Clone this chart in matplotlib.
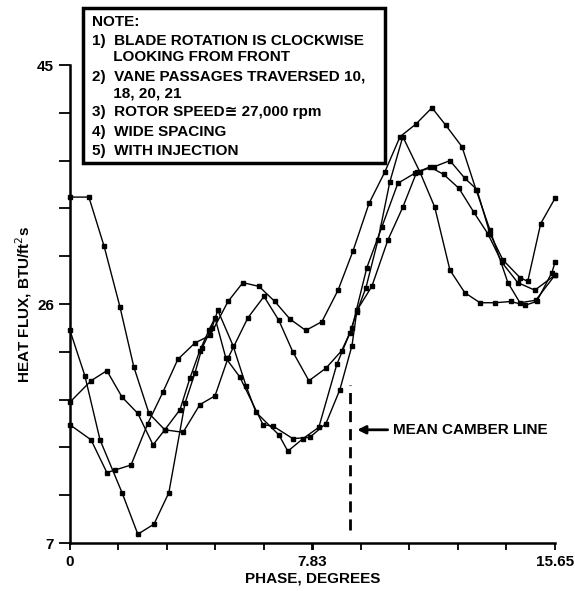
import numpy as np
import matplotlib
matplotlib.use('Agg')
import matplotlib.pyplot as plt
from matplotlib.patches import Rectangle

plt.rcParams['font.family'] = ['Liberation Sans', 'DejaVu Sans']

# phase (degrees) and heat flux (BTU/ft^2 s), one pair per traverse
phaseA = [0.00, 0.61, 1.10, 1.61, 2.06, 2.55, 3.06, 3.65, 4.19, 4.68, 5.10, 5.74, 6.26,
          6.74, 7.19, 7.71, 8.26, 8.77, 9.03, 9.26, 9.55, 9.94, 10.32, 10.74, 11.29,
          11.77, 12.26, 12.74, 13.23, 13.71, 14.23, 14.68, 15.06, 15.55, 15.65]
fluxA = [34.5, 34.5, 30.6, 25.8, 21.0, 17.3, 16.0, 15.8, 18.0, 18.7, 21.7, 24.9, 26.6,
         24.7, 22.2, 19.9, 20.9, 22.3, 23.7, 25.4, 27.3, 31.1, 35.7, 39.3, 36.5,
         33.7, 28.7, 26.9, 26.1, 26.1, 26.2, 25.9, 26.2, 28.5, 29.3]

phaseB = [0.00, 0.68, 1.19, 1.45, 1.97, 2.51, 3.00, 3.48, 4.03, 4.52, 5.10, 5.58, 6.10,
          6.61, 7.10, 7.61, 8.13, 8.65, 9.13, 9.65, 10.16, 10.65, 11.16, 11.68, 12.13,
          12.65, 13.10, 13.55, 14.13, 14.52, 15.03, 15.65]
fluxB = [16.4, 15.2, 12.6, 12.8, 13.2, 16.5, 19.0, 21.6, 22.9, 23.5, 26.2, 27.7, 27.4,
         26.2, 24.8, 23.9, 24.6, 27.1, 30.2, 34.0, 36.5, 39.3, 40.3, 41.6, 40.2,
         38.5, 35.1, 31.9, 27.7, 26.1, 26.3, 28.3]

phaseC = [0.00, 0.48, 0.97, 1.68, 2.19, 2.71, 3.19, 3.71, 4.03, 4.26, 4.58, 4.77, 5.26,
          5.68, 6.00, 6.74, 7.03, 7.52, 8.03, 8.61, 9.10, 9.58, 10.06, 10.58, 11.13,
          11.61, 12.06, 12.55, 13.03, 13.48, 13.94, 14.45, 15.00, 15.65]
fluxC = [23.9, 20.3, 15.2, 11.0, 7.7, 8.5, 11.0, 18.1, 20.5, 22.5, 24.1, 25.5, 22.7,
         19.5, 17.4, 15.6, 14.3, 15.3, 16.2, 21.2, 24.1, 28.9, 32.1, 35.6, 36.4,
         36.9, 36.3, 35.2, 33.3, 31.6, 29.3, 27.7, 27.1, 28.3]

phaseD = [0.00, 0.68, 1.19, 1.68, 2.19, 2.68, 3.06, 3.55, 3.87, 4.19, 4.48, 4.68, 5.03,
          5.48, 6.23, 6.55, 7.19, 7.74, 8.26, 8.71, 9.10, 9.26, 9.74, 10.26, 10.74,
          11.19, 11.74, 12.26, 12.74, 13.13, 13.55, 13.97, 14.52, 14.77, 15.19, 15.65]
fluxD = [18.2, 19.9, 20.7, 18.6, 17.3, 14.8, 16.0, 17.6, 20.1, 22.3, 23.9, 24.9, 21.7,
         20.2, 16.4, 16.3, 15.3, 15.4, 16.5, 19.2, 22.7, 25.5, 27.4, 31.1, 33.7,
         36.5, 36.9, 37.4, 36.0, 35.1, 31.6, 29.5, 28.1, 27.8, 32.4, 34.4]

camberPhase = 9.03
notes = ['NOTE:',
         '1)  BLADE ROTATION IS CLOCKWISE',
         '     LOOKING FROM FRONT',
         '2)  VANE PASSAGES TRAVERSED 10,',
         '     18, 20, 21',
         '3)  ROTOR SPEED\u2245 27,000 rpm',
         '4)  WIDE SPACING',
         '5)  WITH INJECTION']

fig = plt.figure(figsize=(5.75, 5.91), dpi=100)
ax = fig.add_axes([0.1217, 0.0812, 0.8435, 0.8088])

for px, fy in [(phaseA, fluxA), (phaseB, fluxB), (phaseC, fluxC), (phaseD, fluxD)]:
    ax.plot(px, fy, color='black', lw=1.0, marker='s', ms=2.7, clip_on=False)

ax.set_xlim(0, 15.65)
ax.set_ylim(7, 45)
ax.spines['top'].set_visible(False)
ax.spines['right'].set_visible(False)
ax.spines['left'].set_linewidth(1.8)
ax.spines['bottom'].set_linewidth(1.8)

ax.set_xticks(np.linspace(0, 15.65, 11), minor=True)
ax.set_xticks([0, 7.83, 15.65])
ax.set_xticklabels(['0', '7.83', '15.65'])
ax.set_yticks(np.linspace(7, 45, 11), minor=True)
ax.set_yticks([7, 26, 45])
ax.set_yticklabels(['7', '26', '45'])
ax.tick_params(which='both', direction='out', width=1.3, color='black')
ax.tick_params(axis='x', which='both', length=5)
ax.tick_params(axis='y', which='both', length=8)
for lab in ax.get_xticklabels() + ax.get_yticklabels():
    lab.set_fontweight('bold')
    lab.set_fontsize(11)

ax.set_xlabel('PHASE, DEGREES', fontsize=11, fontweight='bold', labelpad=2)
ax.set_ylabel('HEAT FLUX, BTU/ft$^2$s', fontsize=11, fontweight='bold', labelpad=2)

# mean camber line
ax.plot([camberPhase, camberPhase], [8.0, 19.6], color='black', lw=2, ls=(0, (4, 2.5)))
ax.annotate('MEAN CAMBER LINE', xy=(camberPhase + 0.15, 16.0), xytext=(camberPhase + 1.4, 16.0),
            fontsize=11, fontweight='bold', va='center', ha='left',
            arrowprops=dict(arrowstyle='-|>', color='black', lw=2, mutation_scale=12))

# note box
fig.patches.append(Rectangle((83 / 575, 1 - 163 / 591), 302 / 575, 155 / 591,
                             transform=fig.transFigure, fill=True, facecolor='white',
                             edgecolor='black', lw=2.5, zorder=5))
ys = [22, 41, 57, 77, 93, 112, 132, 151]
for txt, yy in zip(notes, ys):
    fig.text(92 / 575, 1 - yy / 591, txt, fontsize=11, fontweight='bold',
             va='center', ha='left', zorder=6)

fig.savefig('out.png', dpi=100)
